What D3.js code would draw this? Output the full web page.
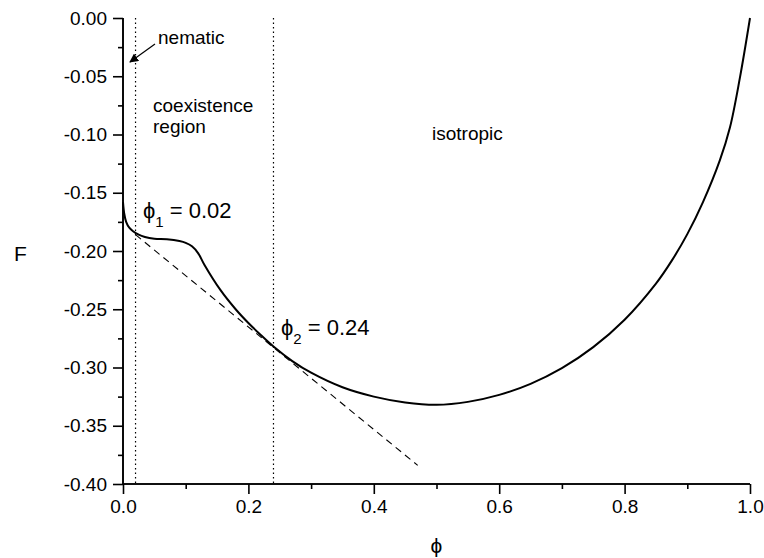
<!DOCTYPE html>
<html>
<head>
<meta charset="utf-8">
<script src="https://cdn.jsdelivr.net/npm/d3@7"></script>
<style>
  html, body { margin: 0; padding: 0; background: #fff; }
  svg text { font-family: "Liberation Sans", Arial, Helvetica, sans-serif; fill: #000; }
</style>
</head>
<body>
<svg id="chart" width="764" height="558"></svg>
<script>
// Free energy F versus volume fraction phi
const phiValues = [0.000, 0.002, 0.005, 0.010, 0.016, 0.025, 0.035, 0.05, 0.07, 0.09, 0.10, 0.11, 0.12,
  0.13, 0.155, 0.18, 0.20, 0.218, 0.24, 0.27, 0.30, 0.35, 0.40, 0.45, 0.50, 0.55, 0.60, 0.65, 0.70,
  0.75, 0.80, 0.85, 0.875, 0.90, 0.925, 0.952, 0.968, 0.984, 1.0];
const freeEnergy = [-0.158, -0.168, -0.175, -0.180, -0.183, -0.186, -0.188, -0.1895, -0.190, -0.1915, -0.193, -0.196, -0.202,
  -0.212, -0.2332, -0.2502, -0.2618, -0.2712, -0.282, -0.2945, -0.3045, -0.317, -0.325, -0.330, -0.332, -0.3295, -0.3235, -0.314, -0.3005,
  -0.2825, -0.259, -0.228, -0.2085, -0.1855, -0.158, -0.122, -0.094, -0.051, 0.0];

// Common tangent (dashed)
const tangentPhi = [0.02, 0.47];
const tangentF = [-0.186, -0.384];

// Coexistence boundaries
const boundaries = [0.02, 0.24];

const xTicks = [0.0, 0.2, 0.4, 0.6, 0.8, 1.0];
const xMinorTicks = [0.1, 0.3, 0.5, 0.7, 0.9];
const yTicks = [0.00, -0.05, -0.10, -0.15, -0.20, -0.25, -0.30, -0.35, -0.40];
const yMinorTicks = [-0.025, -0.075, -0.125, -0.175, -0.225, -0.275, -0.325, -0.375];

const svg = d3.select("#chart");
const x = d3.scaleLinear().domain([0, 1]).range([123, 750]);
const y = d3.scaleLinear().domain([-0.40, 0]).range([484, 18]);

// Plain hyphen for negative numbers
const fmt = p => (v => d3.format(p)(v).replace("\u2212", "-"));

// Axes
const xAxis = svg.append("g").attr("transform", `translate(0,${y(-0.40)})`)
  .call(d3.axisBottom(x).tickValues(xTicks).tickFormat(fmt(".1f")).tickSize(10).tickPadding(6));
const xMinor = svg.append("g").attr("transform", `translate(0,${y(-0.40)})`)
  .call(d3.axisBottom(x).tickValues(xMinorTicks).tickFormat("").tickSize(5).tickSizeOuter(0));
const yAxis = svg.append("g").attr("transform", `translate(${x(0)},0)`)
  .call(d3.axisLeft(y).tickValues(yTicks).tickFormat(fmt(".2f")).tickSize(10).tickPadding(6));
const yMinor = svg.append("g").attr("transform", `translate(${x(0)},0)`)
  .call(d3.axisLeft(y).tickValues(yMinorTicks).tickFormat("").tickSize(5).tickSizeOuter(0));

[xAxis, xMinor, yAxis, yMinor].forEach(g => {
  g.select(".domain").attr("stroke", "#000").attr("stroke-width", 1.6);
  g.selectAll(".tick line").attr("stroke", "#000").attr("stroke-width", 1.6);
  g.selectAll(".tick text").style("font-size", "19px").attr("fill", "#000");
});
[xAxis, xMinor].forEach(g => g.select(".domain").attr("d", `M${x(0)},0H${x(1)}`));
[yAxis, yMinor].forEach(g => g.select(".domain").attr("d", `M0,${y(-0.40)}V${y(0)}`));
xAxis.selectAll(".tick text").attr("dy", "0.71em");

// Vertical dotted boundary lines
svg.selectAll("line.boundary").data(boundaries).enter().append("line")
  .attr("class", "boundary")
  .attr("x1", d => x(d)).attr("x2", d => x(d))
  .attr("y1", y(0)).attr("y2", y(-0.40))
  .attr("stroke", "#000").attr("stroke-width", 1.2)
  .attr("stroke-dasharray", "1.5,3");

// Common tangent
svg.append("path")
  .datum(tangentPhi.map((p, i) => [p, tangentF[i]]))
  .attr("d", d3.line().x(d => x(d[0])).y(d => y(d[1])))
  .attr("fill", "none").attr("stroke", "#000").attr("stroke-width", 1.1)
  .attr("stroke-dasharray", "7,5");

// Free energy curve
svg.append("path")
  .datum(phiValues.map((p, i) => [p, freeEnergy[i]]))
  .attr("d", d3.line().x(d => x(d[0])).y(d => y(d[1])).curve(d3.curveCatmullRom.alpha(0.5)))
  .attr("fill", "none").attr("stroke", "#000").attr("stroke-width", 2);

// Axis titles
svg.append("text").attr("x", 14).attr("y", 261).style("font-size", "21px").text("F");
svg.append("text").attr("x", x(0.5)).attr("y", 553).attr("text-anchor", "middle")
  .style("font-size", "21px").text("\u03D5");

// Region labels
svg.append("text").attr("x", 158).attr("y", 44).style("font-size", "19px").text("nematic");
svg.append("text").attr("x", 153).attr("y", 112).style("font-size", "19px").text("coexistence");
svg.append("text").attr("x", 153).attr("y", 133).style("font-size", "19px").text("region");
svg.append("text").attr("x", 432).attr("y", 140).style("font-size", "19px").text("isotropic");

// Arrow pointing to the nematic branch
svg.append("defs").append("marker")
  .attr("id", "arrowHead").attr("viewBox", "0 0 10 10").attr("refX", 9).attr("refY", 5)
  .attr("markerWidth", 9).attr("markerHeight", 9).attr("markerUnits", "userSpaceOnUse").attr("orient", "auto")
  .append("path").attr("d", "M0,0L10,5L0,10Z").attr("fill", "#000");
svg.append("line").attr("x1", 155).attr("y1", 44).attr("x2", 130).attr("y2", 62)
  .attr("stroke", "#000").attr("stroke-width", 1.2).attr("marker-end", "url(#arrowHead)");

// Coexistence point labels
function phiLabel(xp, yp, sub, val) {
  const t = svg.append("text").attr("x", xp).attr("y", yp).style("font-size", "22px");
  t.append("tspan").text("\u03D5");
  t.append("tspan").attr("dy", 9).style("font-size", "15px").text(sub);
  t.append("tspan").attr("dy", -9).text(" = " + val);
}
phiLabel(143, 218, "1", boundaries[0].toFixed(2));
phiLabel(281, 335, "2", boundaries[1].toFixed(2));
</script>
</body>
</html>
